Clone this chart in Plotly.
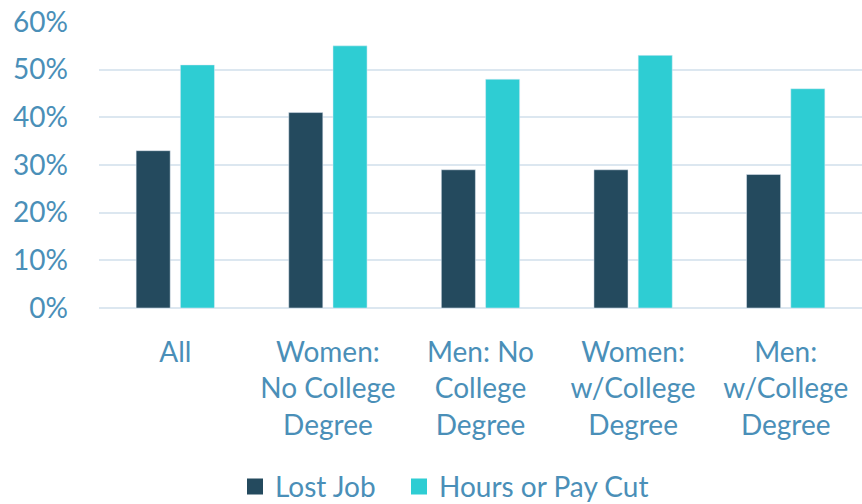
import plotly.graph_objects as go

categories = ["All", "Women:<br>No College<br>Degree", "Men: No<br>College<br>Degree",
              "Women:<br>w/College<br>Degree", "Men:<br>w/College<br>Degree"]
lost_job = [0.33, 0.41, 0.29, 0.29, 0.28]
hours_cut = [0.51, 0.55, 0.48, 0.53, 0.46]
y_ticks = [0, 0.1, 0.2, 0.3, 0.4, 0.5, 0.6]
series_names = ["Lost Job", "Hours or Pay Cut"]
series_colors = ["#244A5E", "#2ECDD3"]
legend_ids = ["legend", "legend2"]

text_color = "#4A8FB8"
grid_color = "#DCE7F0"

fig = go.Figure()
for vals, name, col, lg in zip([lost_job, hours_cut], series_names, series_colors, legend_ids):
    fig.add_trace(go.Bar(x=categories, y=vals, name=name, marker_color=col,
                         showlegend=False, legendgroup=name))
    fig.add_trace(go.Scatter(x=[None], y=[None], mode="markers", name=name, legendgroup=name,
                             legend=lg, marker=dict(symbol="square", size=19, color=col)))

legend_common = dict(orientation="h", xref="container", yref="container", xanchor="left",
                     yanchor="middle", y=0.034, font=dict(size=28, color=text_color),
                     itemwidth=30, bgcolor="rgba(0,0,0,0)")

fig.update_layout(
    width=862, height=504,
    margin=dict(l=99, r=0, t=22, b=196),
    paper_bgcolor="white", plot_bgcolor="white",
    barmode="group", bargap=0.42, bargroupgap=0.23,
    font=dict(family="Lato, Open Sans, sans-serif", size=28, color=text_color),
    showlegend=True,
    legend=dict(x=235 / 862, **legend_common),
    legend2=dict(x=399 / 862, **legend_common),
    xaxis=dict(showgrid=False, showline=False, ticks="", automargin=False,
               ticklabelstandoff=25, tickfont=dict(size=28, color=text_color)),
    yaxis=dict(range=[0, 0.6], tickvals=y_ticks, tickformat=".0%", showgrid=True,
               gridcolor=grid_color, gridwidth=1.5, zeroline=True, zerolinecolor=grid_color,
               zerolinewidth=1.5, ticks="", ticklabelstandoff=30, automargin=False,
               tickfont=dict(size=28, color=text_color)),
)

fig.write_html("out.html", config={"displayModeBar": False},
               post_script="document.body.style.margin='0';")
